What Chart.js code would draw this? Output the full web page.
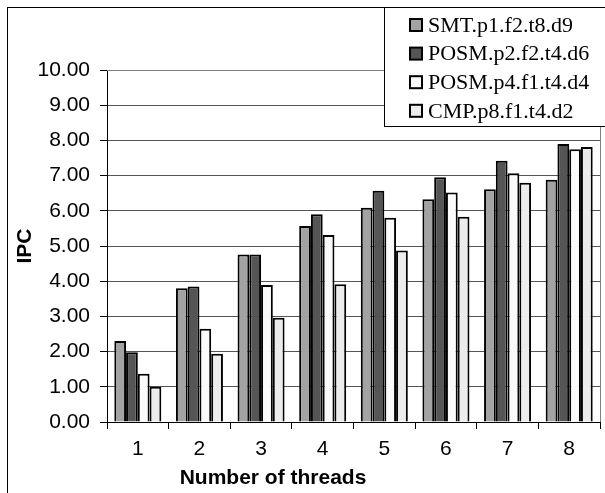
<!DOCTYPE html>
<html>
<head>
<meta charset="utf-8">
<script src="https://cdn.jsdelivr.net/npm/chart.js@4/dist/chart.umd.min.js"></script>
<style>
html,body{margin:0;padding:0;background:#fff;}
canvas{display:block;}
</style>
</head>
<body>
<canvas id="c" width="605" height="493" style="width:605px;height:493px"></canvas>
<script>
const categories = ["1","2","3","4","5","6","7","8"];
const smtP1 = [2.30, 3.80, 4.76, 5.57, 6.09, 6.33, 6.61, 6.88];
const posmP2 = [1.98, 3.85, 4.76, 5.90, 6.57, 6.95, 7.42, 7.90];
const posmP4 = [1.37, 2.65, 3.89, 5.31, 5.80, 6.52, 7.07, 7.75];
const cmpP8 = [1.00, 1.94, 2.96, 3.91, 4.87, 5.83, 6.80, 7.81];
const seriesLabels = ["SMT.p1.f2.t8.d9","POSM.p2.f2.t4.d6","POSM.p4.f1.t4.d4","CMP.p8.f1.t4.d2"];
const yTitle = "IPC";
const xTitle = "Number of threads";

const SANS = '"Liberation Sans", Arial, sans-serif';
const SERIF = '"Liberation Serif", "Times New Roman", serif';
const fills = ["#a3a3a3", "#555555", "#fafafa", "#ececec"];

const decor = {
  id: 'decor',
  beforeDatasetsDraw(chart) {
    const {ctx, chartArea: a} = chart;
    ctx.save();
    ctx.strokeStyle = '#808080';
    ctx.lineWidth = 1;
    ctx.beginPath();
    ctx.moveTo(a.left, a.top + 0.5);
    ctx.lineTo(a.right + 0.5, a.top + 0.5);
    ctx.lineTo(a.right + 0.5, a.bottom);
    ctx.stroke();
    ctx.restore();
  },
  afterDraw(chart) {
    const {ctx, chartArea: a} = chart;
    ctx.save();
    // axis titles
    ctx.fillStyle = '#000';
    ctx.font = 'bold 21px ' + SANS;
    ctx.textAlign = 'center';
    ctx.textBaseline = 'middle';
    ctx.fillText(xTitle, 273, 478);
    ctx.save();
    ctx.translate(25, (a.top + a.bottom) / 2);
    ctx.rotate(-Math.PI / 2);
    ctx.fillText(yTitle, 0, 0);
    ctx.restore();
    // outer border
    ctx.strokeStyle = '#000';
    ctx.lineWidth = 1;
    ctx.strokeRect(7.5, 7.5, 700, 600);
    // legend
    ctx.fillStyle = '#fff';
    ctx.fillRect(384.5, 7.5, 240, 119);
    ctx.strokeRect(384.5, 7.5, 240, 119);
    ctx.font = '22px ' + SERIF;
    ctx.textAlign = 'left';
    ctx.textBaseline = 'middle';
    chart.data.datasets.forEach((ds, i) => {
      const cy = 25 + i * 28.6;
      ctx.fillStyle = ds.backgroundColor;
      ctx.fillRect(410, cy - 6, 12, 12);
      ctx.lineWidth = 2;
      ctx.strokeStyle = '#000';
      ctx.strokeRect(410, cy - 6, 12, 12);
      ctx.fillStyle = '#000';
      ctx.fillText(ds.label, 428, cy + 1);
    });
    ctx.restore();
  }
};

const valueSets = [smtP1, posmP2, posmP4, cmpP8];
new Chart(document.getElementById('c'), {
  type: 'bar',
  data: {
    labels: categories,
    datasets: valueSets.map((v, i) => ({
      label: seriesLabels[i],
      data: v,
      backgroundColor: fills[i],
      borderColor: '#000',
      borderWidth: 2,
      categoryPercentage: 0.763,
      barPercentage: 1.0
    }))
  },
  options: {
    responsive: false,
    animation: false,
    devicePixelRatio: 1,
    layout: {padding: {top: 70, right: 5, left: 0, bottom: 0}},
    plugins: {legend: {display: false}, tooltip: {enabled: false}},
    scales: {
      x: {
        grid: {offset: true, drawOnChartArea: false, drawTicks: true, tickLength: 7, color: '#000', tickColor: '#000'},
        border: {color: '#000', width: 1},
        ticks: {font: {family: SANS, size: 21}, color: '#000', padding: 8},
        afterFit(s) { s.height = 71; }
      },
      y: {
        min: 0, max: 10,
        grid: {color: '#555', tickColor: '#000', tickLength: 7, drawTicks: true},
        border: {color: '#000', width: 1},
        ticks: {stepSize: 1, font: {family: SANS, size: 21}, color: '#000', padding: 10,
                callback: v => Number(v).toFixed(2)},
        afterFit(s) { s.width = 107; }
      }
    }
  },
  plugins: [decor]
});
</script>
</body>
</html>
